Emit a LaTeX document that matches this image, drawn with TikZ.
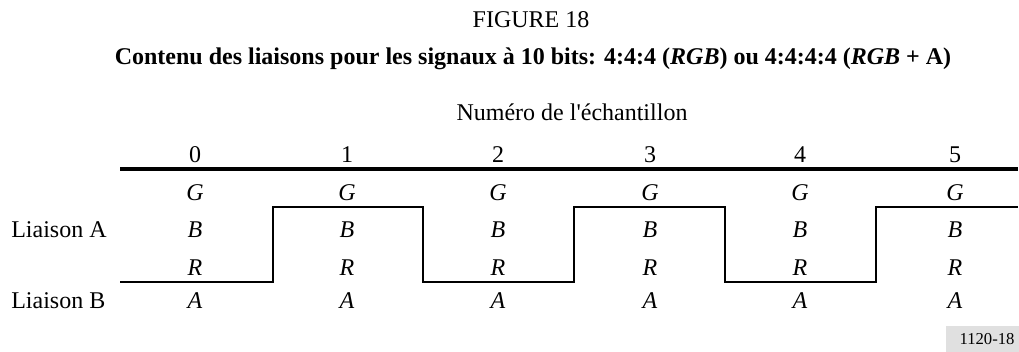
\documentclass[tikz,border=0pt]{standalone}
\usepackage{fontspec}
\setmainfont{Liberation Serif}
\newfontfamily\plainserif{Liberation Serif}
\begin{document}
\begin{tikzpicture}[x=0.75pt,y=-0.75pt,
  txt/.style={inner sep=0pt,anchor=base,font=\fontsize{18}{20}\selectfont},
  ital/.style={txt,font=\fontsize{18}{20}\selectfont\itshape},
  thickrule/.style={line width=3pt},
  wave/.style={line width=2pt,line join=miter}]
\useasboundingbox (0,0) rectangle (1019,351);
\node[txt] (fig) at (531,27) {FIGURE 18};
\node[txt,font=\fontsize{18}{20}\selectfont\bfseries] (title) at (533,64)
  {Contenu des liaisons pour les signaux à 10 bits: 4:4:4 (\textit{RGB}) ou 4:4:4:4 (\textit{RGB} + A)};
\node[txt,font=\fontsize{18}{20}\plainserif] (num) at (572,120) {Numéro de l'échantillon};
\foreach \i/\x in {0/195,1/347,2/498,3/650,4/800,5/955}{
  \node[txt] (n\i) at (\x,162) {\i};
  \node[ital] (g\i) at (\x,200) {G};
  \node[ital] (b\i) at (\x,237) {B};
  \node[ital] (r\i) at (\x,275) {R};
  \node[ital] (a\i) at (\x,308) {A};
}
\node[txt,anchor=base west] (la) at (11,237) {Liaison A};
\node[txt,anchor=base west] (lb) at (11,308) {Liaison B};
\draw[thickrule] (120,169) -- (1018,169);
\draw[wave] (120,282) -- (273,282) -- (273,207) -- (423,207) -- (423,282)
  -- (574,282) -- (574,207) -- (725,207) -- (725,282) -- (876,282)
  -- (876,207) -- (1018,207);
\node[inner sep=0pt,font=\fontsize{12.5}{14}\selectfont,fill=black!12,minimum width=62,minimum height=21] (code) at (987,339.5) {1120-18};
\end{tikzpicture}
\end{document}
